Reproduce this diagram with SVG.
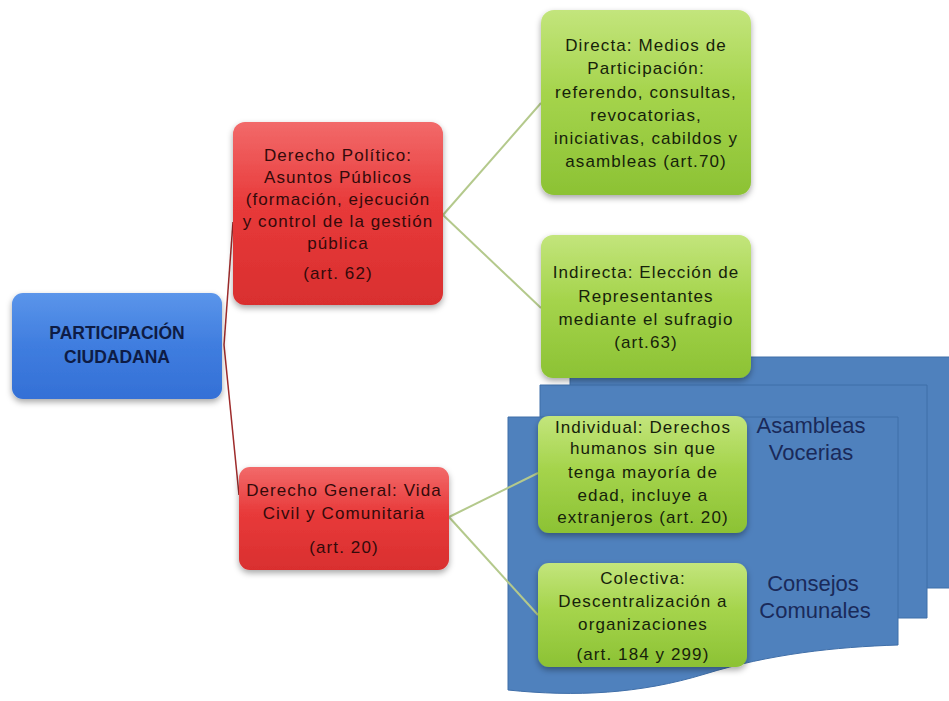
<svg xmlns="http://www.w3.org/2000/svg" width="949" height="701" viewBox="0 0 949 701">
  <defs>
    <linearGradient id="gGreen" x1="0" y1="0" x2="0" y2="1">
      <stop offset="0" stop-color="#c3e57c"/>
      <stop offset="0.45" stop-color="#a5d44c"/>
      <stop offset="1" stop-color="#8cc234"/>
    </linearGradient>
    <linearGradient id="gRed" x1="0" y1="0" x2="0" y2="1">
      <stop offset="0" stop-color="#f26a6a"/>
      <stop offset="0.45" stop-color="#e83a3a"/>
      <stop offset="1" stop-color="#d92f2f"/>
    </linearGradient>
    <linearGradient id="gBlue" x1="0" y1="0" x2="0" y2="1">
      <stop offset="0" stop-color="#5b95ea"/>
      <stop offset="0.5" stop-color="#3f7ddf"/>
      <stop offset="1" stop-color="#3470d6"/>
    </linearGradient>
    <filter id="shadow" x="-10%" y="-10%" width="125%" height="130%">
      <feDropShadow dx="0" dy="3" stdDeviation="3" flood-color="#000" flood-opacity="0.35"/>
    </filter>
  </defs>
  <style>
    .green { fill: url(#gGreen); filter: url(#shadow); }
    .red { fill: url(#gRed); filter: url(#shadow); }
    .blue { fill: url(#gBlue); filter: url(#shadow); }
    .doc { fill: #4f81bd; stroke: #3f6ea8; stroke-width: 1; }
    .t { font-family: "Liberation Sans", Arial, sans-serif; font-size: 17px; letter-spacing: 1.1px; text-anchor: middle; }
    .tg { fill: #16220a; }
    .tr { fill: #330a0a; }
    .tb { font-family: "Liberation Sans", Arial, sans-serif; font-size: 17.5px; font-weight: bold; text-anchor: middle; fill: #0e1c45; }
    .td { font-family: "Liberation Sans", Arial, sans-serif; font-size: 22px; text-anchor: middle; fill: #1a2a5a; }
    .cr { stroke: #9e2b2b; stroke-width: 1.5; fill: none; }
    .cg { stroke: #b4c98c; stroke-width: 2; fill: none; }
  </style>
  <rect width="949" height="701" fill="#ffffff"/>

  <g id="documents">
    <path class="doc" d="M570,357 H952 V588 H570 Z"/>
    <path class="doc" d="M540,385 H927 V618 H540 Z"/>
    <path class="doc" d="M508,417 H898 V645 C835,647 770,654 705,674 C640,694 575,697 508,690 Z"/>
    <text class="td" x="811" y="433">Asambleas</text>
    <text class="td" x="811" y="460">Vocerias</text>
    <text class="td" x="813" y="591">Consejos</text>
    <text class="td" x="815" y="618">Comunales</text>
  </g>

  <g id="connectors">
    <line class="cr" x1="224" y1="345" x2="233" y2="222"/>
    <line class="cr" x1="224" y1="345" x2="239" y2="495"/>
    <line class="cg" x1="443" y1="215" x2="541" y2="103"/>
    <line class="cg" x1="443" y1="215" x2="541" y2="308"/>
    <line class="cg" x1="449" y1="517" x2="538" y2="473"/>
    <line class="cg" x1="449" y1="517" x2="538" y2="615"/>
  </g>

  <g id="node-participacion">
    <rect class="blue" x="12" y="293" width="210" height="106" rx="11"/>
    <text class="tb" x="117" y="339">PARTICIPACIÓN</text>
    <text class="tb" x="117" y="363">CIUDADANA</text>
  </g>

  <g id="node-derecho-politico">
    <rect class="red" x="233" y="122" width="210" height="183" rx="12"/>
    <text class="t tr" x="338" y="161">Derecho Político:</text>
    <text class="t tr" x="338" y="183">Asuntos Públicos</text>
    <text class="t tr" x="338" y="205">(formación, ejecución</text>
    <text class="t tr" x="338" y="227">y control de la gestión</text>
    <text class="t tr" x="338" y="249">pública</text>
    <text class="t tr" x="338" y="279">(art. 62)</text>
  </g>

  <g id="node-derecho-general">
    <rect class="red" x="239" y="467" width="210" height="103" rx="11"/>
    <text class="t tr" x="344" y="496">Derecho General: Vida</text>
    <text class="t tr" x="344" y="519">Civil y Comunitaria</text>
    <text class="t tr" x="344" y="553">(art. 20)</text>
  </g>

  <g id="node-directa">
    <rect class="green" x="541" y="10" width="210" height="185" rx="13"/>
    <text class="t tg" x="646" y="51">Directa: Medios de</text>
    <text class="t tg" x="646" y="74">Participación:</text>
    <text class="t tg" x="646" y="98">referendo, consultas,</text>
    <text class="t tg" x="646" y="121">revocatorias,</text>
    <text class="t tg" x="646" y="144">iniciativas, cabildos y</text>
    <text class="t tg" x="646" y="167">asambleas (art.70)</text>
  </g>

  <g id="node-indirecta">
    <rect class="green" x="541" y="235" width="210" height="143" rx="12"/>
    <text class="t tg" x="646" y="278">Indirecta: Elección de</text>
    <text class="t tg" x="646" y="302">Representantes</text>
    <text class="t tg" x="646" y="325">mediante el sufragio</text>
    <text class="t tg" x="646" y="348">(art.63)</text>
  </g>

  <g id="node-individual">
    <rect class="green" x="538" y="416" width="209" height="117" rx="11"/>
    <text class="t tg" x="643" y="433">Individual: Derechos</text>
    <text class="t tg" x="643" y="454">humanos sin que</text>
    <text class="t tg" x="643" y="478">tenga mayoría de</text>
    <text class="t tg" x="643" y="501">edad, incluye a</text>
    <text class="t tg" x="643" y="523">extranjeros (art. 20)</text>
  </g>

  <g id="node-colectiva">
    <rect class="green" x="538" y="563" width="209" height="104" rx="11"/>
    <text class="t tg" x="643" y="584">Colectiva:</text>
    <text class="t tg" x="643" y="607">Descentralización a</text>
    <text class="t tg" x="643" y="630">organizaciones</text>
    <text class="t tg" x="643" y="660">(art. 184 y 299)</text>
  </g>
</svg>
